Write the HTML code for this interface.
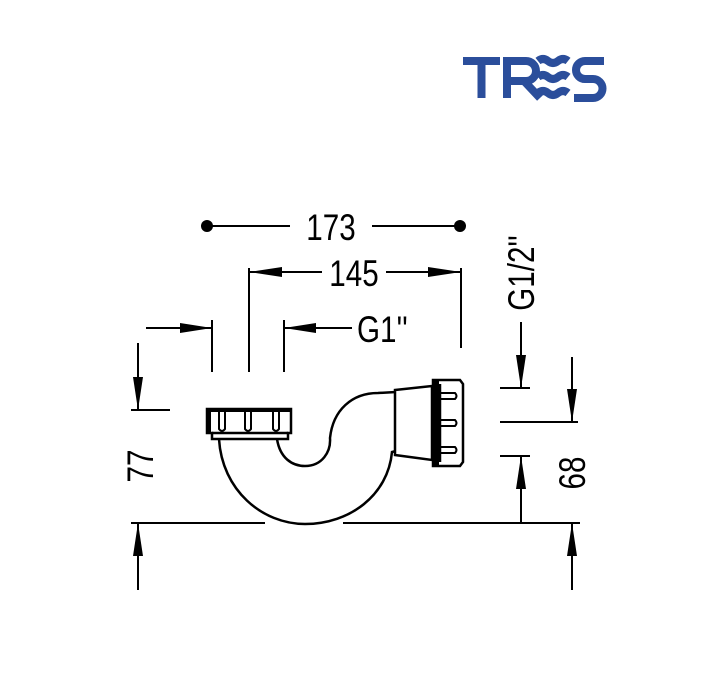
<!DOCTYPE html>
<html><head><meta charset="utf-8"><style>
html,body{margin:0;padding:0;background:#fff;}
svg{display:block;}
text{font-family:"Liberation Sans",sans-serif;fill:#000;}
</style></head><body>
<svg width="713" height="699" viewBox="0 0 713 699" xmlns="http://www.w3.org/2000/svg">
<!-- Logo -->
<g fill="none" stroke="#2b4e9b" stroke-width="8">
<path d="M463 61 H500 M481.5 61 V98"/>
<path d="M507 98 V61 H526 A10 10 0 0 1 526 81 H511 M524 81 L540 98"/>
<path d="M538 61 q5 -4 10 0 t10 0 t10 0"/>
<path d="M538 77 q5 -4 10 0 t10 0 t10 0"/>
<path d="M538 93 q5 -4 10 0 t10 0 t10 0"/>
<path d="M604 61 H585 A9 9 0 0 0 585 79 H593 A9.5 9.5 0 0 1 593 98 H574"/>
</g>
<g stroke="#000" stroke-width="2" fill="none">
<line x1="207" y1="226" x2="290" y2="226"/><line x1="372" y1="226" x2="460" y2="226"/>
<line x1="249" y1="268" x2="249" y2="372"/><line x1="461" y1="268" x2="461" y2="348"/>
<line x1="249" y1="272" x2="322" y2="272"/><line x1="386" y1="272" x2="461" y2="272"/>
<line x1="146" y1="328" x2="212" y2="328"/><line x1="212" y1="320" x2="212" y2="372"/>
<line x1="284" y1="320" x2="284" y2="372"/><line x1="284" y1="328" x2="352" y2="328"/>
<line x1="138" y1="343" x2="138" y2="410"/><line x1="131" y1="410" x2="170" y2="410"/>
<line x1="131" y1="523" x2="265" y2="523"/><line x1="343" y1="523" x2="580" y2="523"/>
<line x1="138" y1="523" x2="138" y2="590"/>
<line x1="521" y1="322" x2="521" y2="388"/><line x1="500" y1="388" x2="530" y2="388"/>
<line x1="500" y1="456" x2="530" y2="456"/><line x1="521" y1="456" x2="521" y2="523"/>
<line x1="572" y1="357" x2="572" y2="422"/><line x1="500" y1="422" x2="578" y2="422"/>
<line x1="572" y1="523" x2="572" y2="590"/>
</g>
<g fill="#000">
<circle cx="207" cy="226" r="6"/><circle cx="460" cy="226" r="6"/>
<polygon points="249,272 282,267 282,277"/><polygon points="461,272 428,267 428,277"/>
<polygon points="212,328 180,323 180,333"/><polygon points="284,328 316,323 316,333"/>
<polygon points="138,410 133,377 143,377"/><polygon points="138,523 133,556 143,556"/>
<polygon points="521,388 516,355 526,355"/><polygon points="521,456 516,489 526,489"/>
<polygon points="572,422 567,389 577,389"/><polygon points="572,523 567,556 577,556"/>
</g>
<g font-size="37">
<text transform="translate(331,240) scale(0.8,1)" text-anchor="middle">173</text>
<text transform="translate(354,286) scale(0.8,1)" text-anchor="middle">145</text>
<text transform="translate(357,342) scale(0.8,1)">G1''</text>
<text transform="translate(153,466) rotate(-90) scale(0.8,1)" text-anchor="middle">77</text>
<text transform="translate(534,273) rotate(-90) scale(0.8,1)" text-anchor="middle">G1/2''</text>
<text transform="translate(585,473) rotate(-90) scale(0.8,1)" text-anchor="middle">68</text>
</g>
<g stroke="#000" stroke-width="2.5" fill="#fff">
<path d="M219 439 C222 490 262 524 305 524 C350 524 388 495 392 452 L396 451"/>
<path d="M277 439 C280 458 292 466 305 466 C322 466 331 452 330 438 C333 410 352 393 378 393 L396 392"/>
<path d="M395 390 L432 386 L432 460 L395 455 Z"/>
<path d="M433 380 L460 380 L463 384 L463 462 L460 466 L433 466 Z"/>
<line x1="440" y1="384" x2="440" y2="462"/>
<path d="M207 409 L291 409 L291 433 L288 433 L288 439 L212 439 L212 433 L207 433 Z"/>
<line x1="212" y1="433" x2="288" y2="433"/>
</g>
<g fill="#000">
<rect x="207" y="408" width="84" height="4"/>
<rect x="207" y="408" width="4" height="25"/>
<rect x="433" y="380" width="6" height="86"/>
</g>
<g stroke="#000" stroke-width="2" fill="none">
<path d="M219 412 V429 q3 4 6 0 V412"/>
<path d="M245 412 V429 q3 4 6 0 V412"/>
<path d="M273 412 V429 q3 4 6 0 V412"/>
<path d="M440 393 H455 q3 3 0 6 H440"/>
<path d="M440 420 H455 q3 3 0 6 H440"/>
<path d="M440 447 H455 q3 3 0 6 H440"/>
</g>
</svg>
</body></html>
